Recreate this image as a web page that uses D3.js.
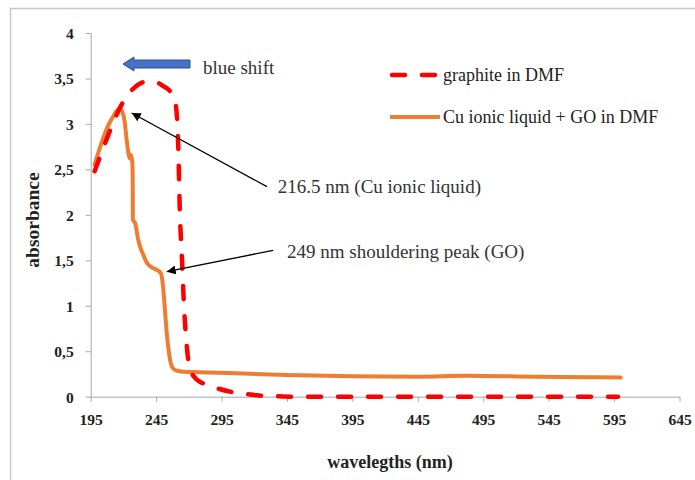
<!DOCTYPE html>
<html>
<head>
<meta charset="utf-8">
<script src="https://cdn.jsdelivr.net/npm/d3@7"></script>
<style>
    body { margin: 0; background: #fff; }
    svg { display: block; }
    text { font-family: "Liberation Serif", "Times New Roman", Tinos, "DejaVu Serif", serif; }
    .tickText { font-weight: bold; font-size: 15.5px; fill: #222; }
    .labelText { font-weight: bold; font-size: 18px; fill: #222; }
    .noteText { font-size: 19px; fill: #333; }
    .legendText { font-size: 18px; fill: #222; }
</style>
</head>
<body>
<div id="chart"></div>
<script>
'use strict';

// Data: graphite in DMF (red dashed)
const graphiteWl = [198, 205, 211, 218.5, 224, 231, 239, 245, 250, 255, 258.5, 260.5, 261.7, 263.2, 264.8,
    266.3, 268.8, 271, 274, 279, 284, 290, 300, 311, 322, 337, 350, 400, 450, 500, 550, 598];
const graphiteAbs = [2.48, 2.75, 2.97, 3.21, 3.33, 3.43, 3.47, 3.46, 3.42, 3.37, 3.3, 3.15, 2.85, 2.0, 1.5,
    1.0, 0.5, 0.3, 0.22, 0.16, 0.13, 0.1, 0.06, 0.035, 0.015, 0.005, 0, 0, 0, 0, 0, 0];

// Data: Cu ionic liquid + GO in DMF (orange)
const cuGoWl = [198, 203, 208, 212.5, 215.5, 217.5, 219.5, 221, 222.5, 225, 225.6, 226.8, 227.1, 227.2, 228, 228.9,
    231.4, 233, 235.5, 238, 242, 246, 248.5, 250, 251.5, 253, 254.5, 256, 258, 261, 266, 278, 300, 345,
    395, 445, 482, 535, 575, 600];
const cuGoAbs = [2.55, 2.78, 2.97, 3.09, 3.155, 3.165, 3.12, 3.02, 2.82, 2.62, 2.66, 2.58, 2.4, 1.95, 1.93, 1.91,
    1.72, 1.64, 1.55, 1.47, 1.42, 1.39, 1.36, 1.25, 1.0, 0.72, 0.52, 0.38, 0.31, 0.285, 0.275, 0.27, 0.26, 0.24,
    0.225, 0.22, 0.23, 0.22, 0.215, 0.21];

// Ticks
const xTicks = [195, 245, 295, 345, 395, 445, 495, 545, 595, 645];
const yTicks = [0, 0.5, 1, 1.5, 2, 2.5, 3, 3.5, 4];

// Legend labels
const seriesNames = ['graphite in DMF', 'Cu ionic liquid + GO in DMF'];

// Configs
const svgW = 695;
const svgH = 480;
const plot = {left: 90.7, right: 679.5, top: 33, bottom: 396.7};
const red = '#ff0000';
const orange = '#ed7d31';

// Tools
const xScale = d3.scaleLinear().domain([195, 645]).range([plot.left, plot.right]);
const yScale = d3.scaleLinear().domain([0, 4]).range([plot.bottom, plot.top]);
const commaFmt = d => String(d).replace('.', ',');

// Set up the svg
const svg = d3.select('#chart')
    .append('svg')
    .attr('width', svgW)
    .attr('height', svgH);

// Outer frame (runs off the right and bottom edges)
svg.append('rect')
    .attr('x', 10.5)
    .attr('y', 8.5)
    .attr('width', svgW + 20)
    .attr('height', svgH + 20)
    .attr('fill', 'none')
    .attr('stroke', '#c8c8c8')
    .attr('stroke-width', 1.5);

// Axes
const xAxisG = svg.append('g')
    .attr('transform', `translate(0, ${plot.bottom})`)
    .call(d3.axisBottom(xScale).tickValues(xTicks).tickSize(5).tickSizeOuter(0).tickPadding(12));
const yAxisG = svg.append('g')
    .attr('transform', `translate(${plot.left}, 0)`)
    .call(d3.axisLeft(yScale).tickValues(yTicks).tickFormat(commaFmt).tickSize(5).tickSizeOuter(0).tickPadding(12));

[xAxisG, yAxisG].forEach(g => {
    g.attr('font-family', null).attr('font-size', null);
    g.select('.domain').attr('stroke', '#a6a6a6');
    g.selectAll('.tick line').attr('stroke', '#a6a6a6');
    g.selectAll('.tick text').attr('class', 'tickText').attr('fill', null);
});
yAxisG.selectAll('.tick text').attr('dy', '0.35em');

// Axis labels
svg.append('text')
    .attr('class', 'labelText')
    .attr('text-anchor', 'middle')
    .attr('x', 390)
    .attr('y', 468)
    .text('wavelegths (nm)');
svg.append('text')
    .attr('class', 'labelText')
    .attr('text-anchor', 'middle')
    .style('font-size', '19.5px')
    .attr('transform', 'translate(39, 220) rotate(-90)')
    .text('absorbance');

// Lines
const line = d3.line()
    .x(d => xScale(d[0]))
    .y(d => yScale(d[1]))
    .curve(d3.curveMonotoneX);

const graphiteData = d3.zip(graphiteWl, graphiteAbs);
const cuGoData = d3.zip(cuGoWl, cuGoAbs);

svg.append('path')
    .datum(cuGoData)
    .attr('d', line)
    .attr('fill', 'none')
    .attr('stroke', orange)
    .attr('stroke-width', 4)
    .attr('stroke-linejoin', 'round')
    .attr('stroke-linecap', 'round');

svg.append('path')
    .datum(graphiteData)
    .attr('d', line)
    .attr('fill', 'none')
    .attr('stroke', red)
    .attr('stroke-width', 4.5)
    .attr('stroke-dasharray', '13,17')
    .attr('stroke-linecap', 'round');

// Arrowhead marker
svg.append('defs').append('marker')
    .attr('id', 'head')
    .attr('viewBox', '0 0 10 10')
    .attr('refX', 10)
    .attr('refY', 5)
    .attr('markerWidth', 9)
    .attr('markerHeight', 9)
    .attr('markerUnits', 'userSpaceOnUse')
    .attr('orient', 'auto')
    .append('path')
    .attr('d', 'M0,0 L10,5 L0,10 Z')
    .attr('fill', '#000');

// Annotations [tail wl, tail abs, tip wl, tip abs, text wl, text abs, text]
const notes = [
    [329.7, 2.31, 226.3, 3.12, 338, 2.24, '216.5 nm (Cu ionic liquid)'],
    [334.5, 1.61, 253.1, 1.375, 345, 1.53, '249 nm shouldering peak (GO)']
];
notes.forEach(n => {
    svg.append('line')
        .attr('x1', xScale(n[0])).attr('y1', yScale(n[1]))
        .attr('x2', xScale(n[2])).attr('y2', yScale(n[3]))
        .attr('stroke', '#000')
        .attr('stroke-width', 1.3)
        .attr('marker-end', 'url(#head)');
    svg.append('text')
        .attr('class', 'noteText')
        .attr('x', xScale(n[4]))
        .attr('y', yScale(n[5]))
        .text(n[6]);
});

// Blue shift arrow
const bx0 = 190, bx1 = 123, by = 64;
svg.append('path')
    .attr('d', `M${bx0},${by - 4} L${bx1 + 11},${by - 4} L${bx1 + 11},${by - 7} L${bx1},${by} ` +
        `L${bx1 + 11},${by + 7} L${bx1 + 11},${by + 4} L${bx0},${by + 4} Z`)
    .attr('fill', '#4472c4')
    .attr('stroke', '#2f528f')
    .attr('stroke-width', 1);
svg.append('text')
    .attr('class', 'noteText')
    .attr('x', 203)
    .attr('y', 74)
    .text('blue shift');

// Legend
const legendG = svg.append('g').attr('transform', 'translate(390, 0)');
legendG.append('line')
    .attr('x1', 2).attr('x2', 47).attr('y1', 75).attr('y2', 75)
    .attr('stroke', red)
    .attr('stroke-width', 4.5)
    .attr('stroke-dasharray', '13,17')
    .attr('stroke-linecap', 'round');
legendG.append('line')
    .attr('x1', 0).attr('x2', 50).attr('y1', 117).attr('y2', 117)
    .attr('stroke', orange)
    .attr('stroke-width', 4);
legendG.selectAll('.legendText')
    .data(seriesNames)
    .join('text')
    .attr('class', 'legendText')
    .attr('x', 53)
    .attr('y', (d, i) => 81 + i * 42)
    .text(d => d);
</script>
</body>
</html>
